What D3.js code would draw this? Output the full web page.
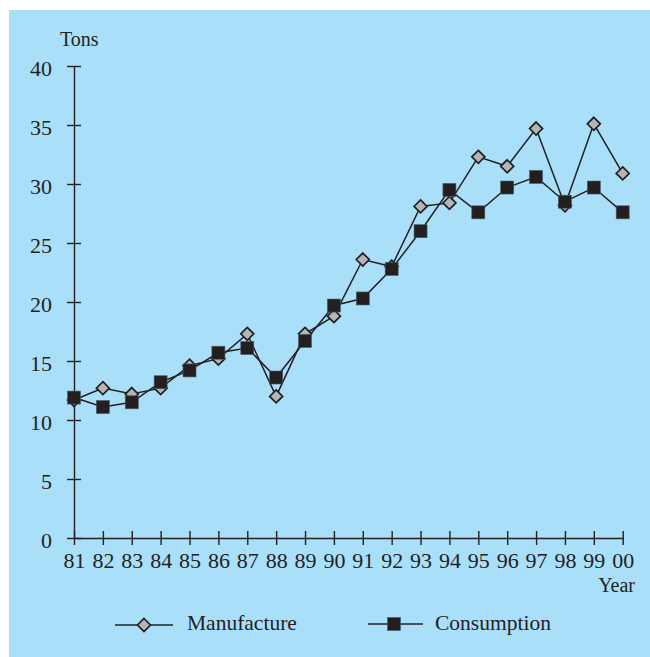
<!DOCTYPE html>
<html><head><meta charset="utf-8">
<script src="https://cdn.jsdelivr.net/npm/d3@7"></script>
<style>
html,body{margin:0;padding:0;background:#fff;}
svg{display:block;}
text{font-family:"Liberation Serif","Times New Roman",serif;fill:#231f20;}
</style></head>
<body>
<script>
const years = ["81","82","83","84","85","86","87","88","89","90","91","92","93","94","95","96","97","98","99","00"];
const manufacture = [11.7,12.7,12.2,12.7,14.6,15.2,17.3,12.0,17.3,18.8,23.6,23.0,28.1,28.4,32.3,31.5,34.7,28.2,35.1,30.9];
const consumption = [11.9,11.1,11.5,13.2,14.2,15.7,16.1,13.6,16.7,19.7,20.3,22.8,26.0,29.5,27.6,29.7,30.6,28.5,29.7,27.6];
const yTicks = [0,5,10,15,20,25,30,35,40];
const seriesNames = ["Manufacture","Consumption"];

const W = 650, H = 657;
const ink = "#231f20";
const svg = d3.select("body").append("svg").attr("width", W).attr("height", H);
svg.append("rect").attr("x",9).attr("y",10).attr("width",W-9).attr("height",H-10).attr("fill","#aadff9");

const x = d3.scalePoint().domain(years).range([74, 622.7]);
const y = d3.scaleLinear().domain([0,40]).range([538, 66]);

// Y axis
const gy = svg.append("g").attr("transform","translate(74,0)")
  .call(d3.axisLeft(y).tickValues(yTicks).tickSize(7).tickSizeOuter(0).tickPadding(0));
gy.select(".domain").attr("stroke",ink).attr("stroke-width",1.4);
gy.selectAll(".tick line").attr("x1",7).attr("stroke",ink).attr("stroke-width",1.4);
gy.selectAll(".tick text").attr("x",-22).attr("dy",null).attr("y",9.5)
  .style("font-family",'"Liberation Serif",serif').style("font-size","22px").attr("fill",ink);

// X axis
const gx = svg.append("g").attr("transform","translate(0,538)")
  .call(d3.axisBottom(x).tickSize(7).tickSizeOuter(0).tickPadding(0));
gx.select(".domain").attr("stroke",ink).attr("stroke-width",1.4);
gx.selectAll(".tick line").attr("y1",-7).attr("stroke",ink).attr("stroke-width",1.4);
gx.selectAll(".tick text").attr("y",30).attr("dy",null)
  .style("font-family",'"Liberation Serif",serif').style("font-size","22px").attr("fill",ink);

svg.append("text").attr("x",60).attr("y",46).style("font-size","20px").text("Tons");
svg.append("text").attr("x",635).attr("y",592).attr("text-anchor","end").style("font-size","20px").text("Year");

const line = d3.line().x((d,i)=>x(years[i])).y(d=>y(d));
svg.append("path").datum(manufacture).attr("d",line).attr("fill","none").attr("stroke",ink).attr("stroke-width",1.5);
svg.append("path").datum(consumption).attr("d",line).attr("fill","none").attr("stroke",ink).attr("stroke-width",1.5);

const diamond = "M0,-6.5L6.5,0L0,6.5L-6.5,0Z";
function drawDiamond(g, cx, cy){
  g.append("path").attr("d",diamond).attr("transform",`translate(${cx},${cy})`)
   .attr("fill","#b5b5b5").attr("stroke",ink).attr("stroke-width",1.7);
}
function drawSquare(g, cx, cy){
  g.append("rect").attr("x",cx-6.5).attr("y",cy-6.5).attr("width",13).attr("height",13)
   .attr("fill",ink).attr("stroke","#4a5a66").attr("stroke-width",0.6);
}
const gm = svg.append("g");
manufacture.forEach((v,i)=>drawDiamond(gm, x(years[i]), y(v)));
const gc = svg.append("g");
consumption.forEach((v,i)=>drawSquare(gc, x(years[i]), y(v)));

// Legend
const lg = svg.append("g");
lg.append("line").attr("x1",115).attr("x2",173).attr("y1",625).attr("y2",625).attr("stroke",ink).attr("stroke-width",1.5);
drawDiamond(lg,144,625);
lg.append("text").attr("x",187).attr("y",630).style("font-size","21.5px").text(seriesNames[0]);
lg.append("line").attr("x1",368).attr("x2",423).attr("y1",624).attr("y2",624).attr("stroke",ink).attr("stroke-width",1.5);
drawSquare(lg,394,624);
lg.append("text").attr("x",435).attr("y",630).style("font-size","21.5px").text(seriesNames[1]);
</script>
</body></html>
